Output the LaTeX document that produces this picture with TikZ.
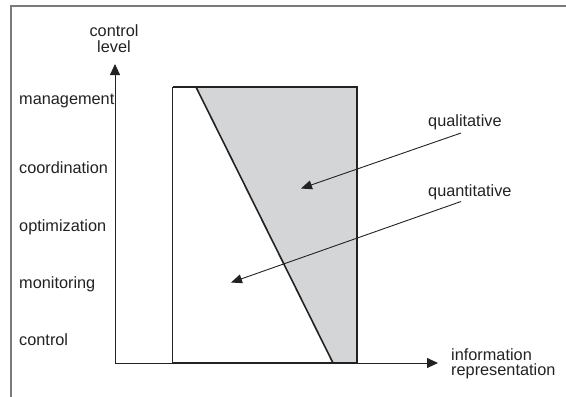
\documentclass[tikz,border=0pt]{standalone}
\usepackage{fontspec}
\setmainfont{Liberation Sans}
\usetikzlibrary{arrows.meta}
\definecolor{regiongray}{HTML}{D4D5D7}
\definecolor{framegray}{HTML}{7A7A7A}
\definecolor{ink}{HTML}{222222}
\tikzset{
  lbl/.style={font=\fontsize{16.3}{19}\selectfont, text=ink, inner sep=0pt, anchor=base west},
  axisline/.style={draw=ink, line width=0.9pt, -{Triangle[length=11pt,width=10pt]}},
  pointer/.style={draw=ink, line width=0.9pt, -{Triangle[length=11pt,width=9pt]}},
  thick edge/.style={draw=ink, line width=1.6pt},
  thin edge/.style={draw=ink, line width=0.9pt},
}
\begin{document}
\begin{tikzpicture}[x=1pt,y=-1pt]
\useasboundingbox (0,0) rectangle (566,397);
% open frame
\draw[framegray, line width=1.5pt] (11,397) -- (11,6) -- (566,6);
% coordinates
\coordinate (O) at (115,363);
\coordinate (ytip) at (115,64);
\coordinate (xtip) at (438,363);
\coordinate (rbl) at (172.5,363);
\coordinate (rtl) at (172.5,87);
\coordinate (rtr) at (357,87);
\coordinate (rbr) at (357,363);
\coordinate (dtop) at (196,87);
\coordinate (dbot) at (333,363);
% shaded region
\fill[fill=regiongray] (dtop) -- (rtr) -- (rbr) -- (dbot) -- cycle;
% rectangle
\draw[thin edge] (rbl) -- (rtl);
\draw[thick edge] (rtl) -- (rtr) -- (rbr) -- (rbl);
\draw[thick edge] (dtop) -- (dbot);
% axes
\draw[axisline] (O) -- (ytip);
\draw[axisline] (O) -- (xtip);
% labels
\node[lbl, anchor=base] (cl1) at (114,36.5) {control};
\node[lbl, anchor=base] (cl2) at (114,52.5) {level};
\node[lbl] (l1) at (19,104) {management};
\node[lbl] (l2) at (19,173) {coordination};
\node[lbl] (l3) at (19,231) {optimization};
\node[lbl] (l4) at (19,288) {monitoring};
\node[lbl] (l5) at (19,345) {control};
\node[lbl] (ir1) at (451,360) {information};
\node[lbl] (ir2) at (451,375) {representation};
\node[lbl] (qual) at (428,126) {qualitative};
\node[lbl] (quan) at (428,196.5) {quantitative};
% pointers
\coordinate (qs) at (461,133);
\coordinate (qt) at (301,188.5);
\coordinate (ns) at (461,201.5);
\coordinate (nt) at (231,282.5);
\draw[pointer] (qs) -- (qt);
\draw[pointer] (ns) -- (nt);
\end{tikzpicture}
\end{document}
